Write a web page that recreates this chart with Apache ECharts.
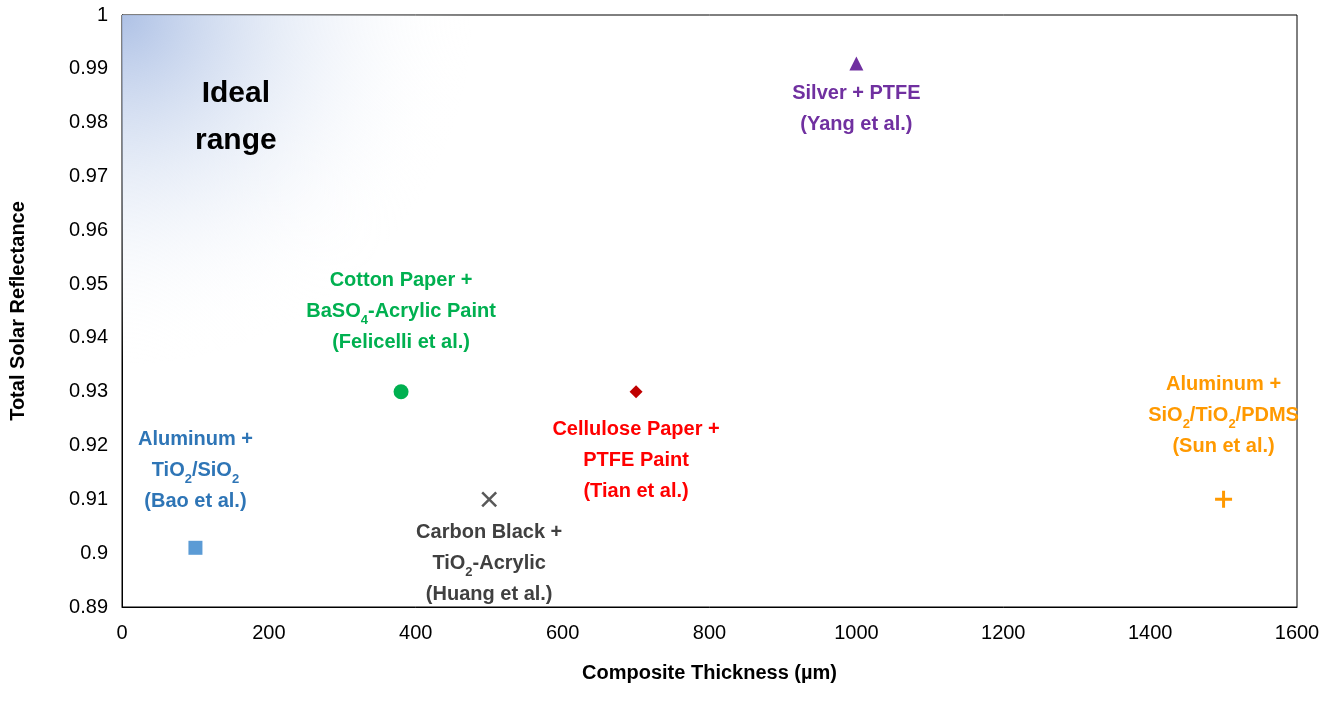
<!DOCTYPE html>
<html>
<head>
<meta charset="utf-8">
<script src="https://cdn.jsdelivr.net/npm/echarts@6/dist/echarts.min.js"></script>
<style>html,body{margin:0;background:#fff}#chart{width:1328px;height:705px}</style>
</head>
<body>
<div id="chart"></div>
<script>
// points: [thickness µm, reflectance]
const names = ['Bao', 'Felicelli', 'Huang', 'Tian', 'Yang', 'Sun']
const thickness = [100, 380, 500, 700, 1000, 1500]
const reflectance = [0.901, 0.93, 0.91, 0.93, 0.991, 0.91]
const labels = [
  'Aluminum +\nTiO{s|2}/SiO{s|2}\n(Bao et al.)',
  'Cotton Paper +\nBaSO{s|4}-Acrylic Paint\n(Felicelli et al.)',
  'Carbon Black +\nTiO{s|2}-Acrylic\n(Huang et al.)',
  'Cellulose Paper +\nPTFE Paint\n(Tian et al.)',
  'Silver + PTFE\n(Yang et al.)',
  'Aluminum +\nSiO{s|2}/TiO{s|2}/PDMS\n(Sun et al.)'
]
const markerColors = ['#5b9bd5', '#00b050', '#595959', '#c00000', '#7030a0', '#ff9900']
const textColors = ['#2e75b6', '#00b050', '#404040', '#ff0000', '#7030a0', '#ff9900']
const symbols = ['rect', 'circle', 'path://M0,0L2,2M2,0L0,2', 'diamond', 'triangle', 'path://M1,0L1,2M0,1L2,1']
const symbolSizes = [14, 15, 14, 13, 14, 17]
const labelPos = ['top', 'top', 'bottom', 'bottom', 'bottom', 'top']
const labelDist = [24, 26, 8, 16, 8, 26]

const myChart = echarts.init(document.getElementById('chart'))

const series = names.map((n, i) => {
  const isLine = symbols[i].startsWith('path')
  return {
    type: 'scatter',
    name: n,
    data: [[thickness[i], reflectance[i]]],
    symbol: symbols[i],
    symbolSize: symbolSizes[i],
    itemStyle: isLine
      ? { opacity: 1, color: 'none', borderColor: markerColors[i], borderWidth: i === 5 ? 3 : 2.5 }
      : { opacity: 1, color: markerColors[i] },
    label: {
      show: true,
      position: labelPos[i],
      distance: labelDist[i],
      formatter: labels[i],
      color: textColors[i],
      fontFamily: 'Liberation Sans',
      fontWeight: 'bold',
      fontSize: 20,
      lineHeight: 31,
      align: 'center',
      rich: {
        s: { fontSize: 13, fontWeight: 'bold', color: textColors[i], verticalAlign: 'bottom', padding: [12, 0, 0, 0], lineHeight: 31, fontFamily: 'Liberation Sans' }
      }
    }
  }
})

// ideal range shading + label
series.push({
  type: 'scatter',
  data: [[155, 0.981]],
  symbolSize: 0,
  silent: true,
  itemStyle: { opacity: 1 },
  label: {
    show: true, position: 'inside', formatter: 'Ideal\nrange',
    color: '#000', fontFamily: 'Liberation Sans', fontWeight: 'bold', fontSize: 30, lineHeight: 47
  },
  markArea: {
    silent: true,
    itemStyle: {
      opacity: 1,
      color: {
        type: 'radial', x: 0, y: 0, r: 1,
        colorStops: [
          { offset: 0, color: 'rgba(170,190,228,0.95)' },
          { offset: 0.45, color: 'rgba(215,225,242,0.6)' },
          { offset: 1, color: 'rgba(255,255,255,0)' }
        ]
      }
    },
    data: [[{ coord: [0, 1] }, { coord: [720, 0.935] }]]
  }
})

const option = {
  animation: false,
  grid: { left: 117, right: 31, top: 15, bottom: 98, show: true, borderColor: '#000', borderWidth: 1 },
  xAxis: {
    type: 'value', min: 0, max: 1600, interval: 200,
    name: 'Composite Thickness (µm)', nameLocation: 'middle', nameGap: 56,
    nameTextStyle: { fontFamily: 'Liberation Sans', fontWeight: 'bold', fontSize: 20, color: '#000' },
    axisLine: { lineStyle: { color: '#000' } },
    axisTick: { show: false },
    splitLine: { show: false },
    axisLabel: { fontFamily: 'Liberation Sans', fontSize: 20, color: '#000', margin: 16, formatter: v => String(v) }
  },
  yAxis: {
    type: 'value', min: 0.89, max: 1, interval: 0.01,
    name: 'Total Solar Reflectance', nameLocation: 'middle', nameGap: 94,
    nameTextStyle: { fontFamily: 'Liberation Sans', fontWeight: 'bold', fontSize: 20, color: '#000' },
    axisLine: { show: true, lineStyle: { color: '#000' } },
    axisTick: { show: false },
    splitLine: { show: false },
    axisLabel: { fontFamily: 'Liberation Sans', fontSize: 20, color: '#000', margin: 14, formatter: v => String(+v.toFixed(2)) }
  },
  series: series
}

option && myChart.setOption(option)
</script>
</body>
</html>
